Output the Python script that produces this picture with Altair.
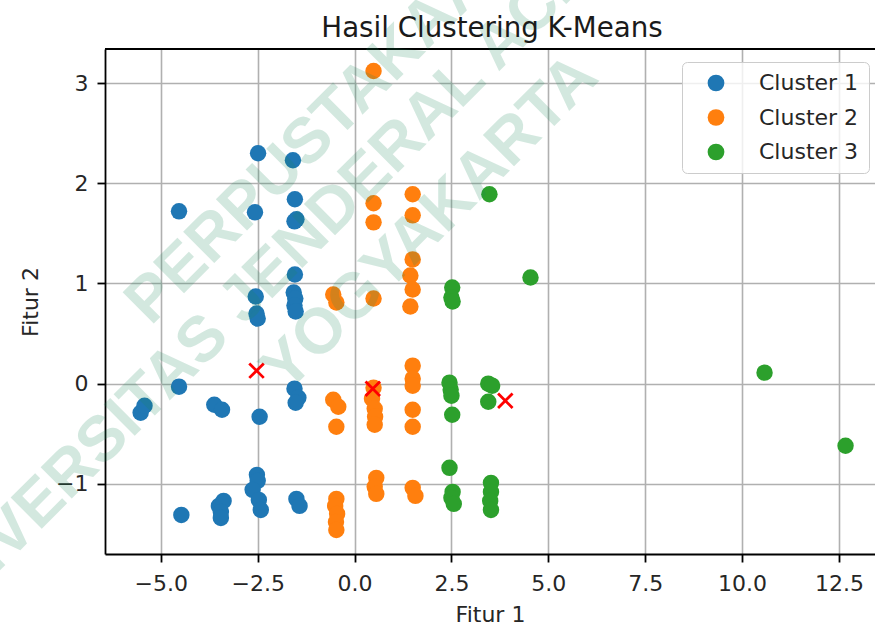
import altair as alt
import pandas as pd

# ---- data ----
cluster1_x = [-2.49, -1.59, -4.53, -2.57, -1.54, -1.50, -1.55, -1.54, -2.55, -2.53, -2.50,
              -1.57, -1.53, -1.55, -1.52, -4.53, -5.52, -5.42, -3.62, -3.42, -2.45, -1.55,
              -1.45, -1.52, -2.52, -2.50, -2.63, -2.47, -2.42, -1.50, -1.42, -3.50, -3.38,
              -3.45, -3.45, -4.47]
cluster1_y = [2.30, 2.23, 1.72, 1.71, 1.84, 1.64, 1.62, 1.09, 0.87, 0.70, 0.65,
              0.91, 0.85, 0.78, 0.72, -0.03, -0.29, -0.22, -0.21, -0.26, -0.33, -0.05,
              -0.14, -0.19, -0.91, -0.97, -1.06, -1.16, -1.26, -1.15, -1.22, -1.22, -1.17,
              -1.28, -1.34, -1.31]

cluster2_x = [0.49, 1.50, 0.49, 0.49, 1.50, 1.50, 1.44, 1.50, 1.44, 0.49, -0.55, -0.47,
              1.50, 1.50, 1.50, 1.50, 1.50, 0.49, 0.45, 0.52, 0.53, 0.52, -0.55, -0.42,
              -0.47, 0.56, 0.52, 0.56, 1.50, 1.57, -0.47, -0.50, -0.45, -0.48, -0.47]
cluster2_y = [3.12, 1.89, 1.80, 1.61, 1.68, 1.24, 1.08, 0.94, 0.77, 0.85, 0.89, 0.81,
              0.18, 0.05, -0.02, -0.26, -0.43, -0.04, -0.15, -0.25, -0.33, -0.41, -0.16, -0.23,
              -0.43, -0.94, -1.03, -1.10, -1.04, -1.12, -1.15, -1.22, -1.30, -1.38, -1.46]

cluster3_x = [3.48, 4.54, 2.52, 2.50, 2.53, 2.45, 2.48, 2.50, 2.52, 3.45, 3.55, 3.45,
              2.45, 2.53, 2.50, 2.56, 3.52, 3.52, 3.50, 3.52, 10.58, 12.67]
cluster3_y = [1.89, 1.06, 0.96, 0.86, 0.82, 0.01, -0.06, -0.12, -0.31, 0.00, -0.02, -0.18,
              -0.84, -1.08, -1.14, -1.20, -0.99, -1.08, -1.17, -1.26, 0.11, -0.62]

centroid_x = [-2.53, 0.47, 3.89]
centroid_y = [0.13, -0.05, -0.17]

cluster_names = ["Cluster 1", "Cluster 2", "Cluster 3"]
cluster_colors = ["#1f77b4", "#ff7f0e", "#2ca02c"]

x_ticks = [-5.0, -2.5, 0.0, 2.5, 5.0, 7.5, 10.0, 12.5]
y_ticks = [-1, 0, 1, 2, 3]
x_domain = [-6.44, 13.43]
y_domain = [-1.70, 3.34]

chart_title = ["Hasil Clustering K-Means"]

watermark_text = ["PERPUSTAKAAN", "UNIVERSITAS JENDERAL ACHMAD YANI", "YOGYAKARTA"]
watermark_x = [-0.78, 0.12, 1.95]
watermark_y = [2.57, 1.99, 1.60]

# ---- tables ----
rows = []
for name, xs, ys in zip(cluster_names, [cluster1_x, cluster2_x, cluster3_x],
                        [cluster1_y, cluster2_y, cluster3_y]):
    for a, b in zip(xs, ys):
        rows.append({"f1": a, "f2": b, "cluster": name})
points_df = pd.DataFrame(rows)
cent_df = pd.DataFrame({"f1": centroid_x, "f2": centroid_y})
top_df = pd.DataFrame({"f2": [y_domain[1]]})
wm_df = pd.DataFrame({"t": watermark_text, "f1": watermark_x, "f2": watermark_y})
title_df = pd.DataFrame({"t": chart_title})

FONT = "DejaVu Sans"

xscale = alt.Scale(domain=x_domain, nice=False, zero=False)
yscale = alt.Scale(domain=y_domain, nice=False, zero=False)

xaxis = alt.Axis(values=x_ticks, format=".1f", title="Fitur 1", titleY=50,
                 labelFlush=False, labelOverlap=False, labelPadding=11)
yaxis = alt.Axis(values=y_ticks, format="d", title="Fitur 2", titleX=-63,
                 labelFlush=False, labelOverlap=False, labelPadding=9)

points = alt.Chart(points_df).mark_circle(size=270, opacity=1).encode(
    x=alt.X("f1:Q", scale=xscale, axis=xaxis),
    y=alt.Y("f2:Q", scale=yscale, axis=yaxis),
    color=alt.Color("cluster:N",
                    scale=alt.Scale(domain=cluster_names, range=cluster_colors),
                    legend=alt.Legend(title=None, orient="none", legendX=577, legendY=13,
                                      padding=10, symbolOffset=13, labelOffset=32,
                                      rowPadding=12.5, symbolSize=280, symbolType="circle",
                                      symbolStrokeWidth=0, symbolOpacity=1,
                                      labelFont=FONT, labelFontSize=22, labelColor="#262626",
                                      strokeColor="#cccccc", fillColor="rgba(255,255,255,0.8)",
                                      cornerRadius=5)),
)

centroids = alt.Chart(cent_df).mark_point(
    shape="M-1,-1L1,1M-1,1L1,-1", filled=False, stroke="red", color="red",
    strokeWidth=2.8, size=210, opacity=1
).encode(
    x=alt.X("f1:Q", scale=xscale),
    y=alt.Y("f2:Q", scale=yscale),
)

top_spine = alt.Chart(top_df).mark_rule(color="black", strokeWidth=1.8).encode(
    y=alt.Y("f2:Q", scale=yscale)
)

watermark = alt.Chart(wm_df).mark_text(
    angle=315, font="Liberation Sans", fontWeight="bold", fontSize=64,
    color="#1a8a5a", opacity=0.19, align="center", baseline="middle"
).encode(
    x=alt.X("f1:Q", scale=xscale),
    y=alt.Y("f2:Q", scale=yscale),
    text="t:N",
)

title_mark = alt.Chart(title_df).mark_text(
    font=FONT, fontSize=27.7, color="#1a1a1a", align="center", baseline="alphabetic"
).encode(
    x=alt.value(387), y=alt.value(-12), text="t:N"
)

chart = alt.layer(points, centroids, top_spine, watermark, title_mark).properties(
    width=770, height=505,
    autosize=alt.AutoSizeParams(type="none"),
    padding={"left": 105, "top": 49, "right": 0, "bottom": 73},
    background="white",
).configure_view(
    stroke=None
).configure_axis(
    domainColor="black", domainWidth=1.8,
    tickColor="black", tickWidth=1.8, tickSize=8,
    grid=True, gridColor="#b0b0b0", gridWidth=1.6,
    labelFont=FONT, labelFontSize=22, labelColor="#262626",
    titleFont=FONT, titleFontSize=22, titleFontWeight="normal", titleColor="#262626",
)

chart.save("out.html", embed_options={"renderer": "svg", "actions": False})
